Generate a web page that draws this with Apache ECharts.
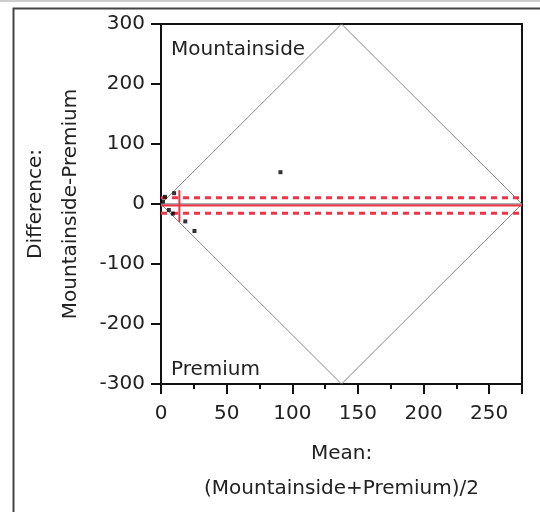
<!DOCTYPE html>
<html>
<head>
<meta charset="utf-8">
<script src="https://cdn.jsdelivr.net/npm/echarts@6/dist/echarts.min.js"></script>
<style>
  html, body { margin: 0; padding: 0; background: #fff; }
  #chart { width: 540px; height: 512px; }
</style>
</head>
<body>
<div id="chart"></div>
<script>
// paired points: mean of the two, and their difference
const meanVals = [1.5, 3, 10, 6, 9, 18.5, 25.5, 91]
const diffVals = [4, 12, 18, -10, -16, -29, -45, 53]

// axis setup
const xMin = 0
const xMax = 275
const yMin = -300
const yMax = 300

// diamond outline (corners in data units)
const diamondX = [0, 137.5, 275, 137.5, 0]
const diamondY = [0, 300, 0, -300, 0]

// mean difference and its confidence bounds
const meanDiff = -2.5
const upperCI = 10.5
const lowerCI = -15.5
// short vertical red bar
const barX = 14
const barY = [23, -30]

const red = "#ee3346"
const font = "DejaVu Sans"

const chart = echarts.init(document.getElementById("chart"))

const hLine = (y, type) => ({
  type: "line",
  silent: true,
  symbol: "none",
  data: [[xMin, y], [xMax, y]],
  lineStyle: { color: red, width: type === "solid" ? 2 : 3, type: type === "solid" ? "solid" : [6, 5] },
  z: 3
})

chart.setOption({
  animation: false,
  grid: { left: 161, right: 18, top: 24, bottom: 128 },
  xAxis: [
    {
      type: "value",
      min: xMin,
      max: xMax,
      interval: 50,
      splitLine: { show: false },
      axisLine: { onZero: false, lineStyle: { color: "#111", width: 2 } },
      axisTick: { length: 10, lineStyle: { color: "#111", width: 2 } },
      minorTick: { show: true, splitNumber: 2, length: 5, lineStyle: { color: "#111", width: 2 } },
      axisLabel: { color: "#222", fontSize: 20, fontFamily: font, margin: 20 },
      name: "Mean:\n(Mountainside+Premium)/2",
      nameLocation: "middle",
      nameGap: 52,
      nameTextStyle: { color: "#222", fontSize: 20, fontFamily: font, lineHeight: 35 }
    },
    {
      type: "value",
      position: "top",
      min: xMin,
      max: xMax,
      axisLine: { show: true, onZero: false, lineStyle: { color: "#111", width: 2 } },
      axisTick: { show: false },
      axisLabel: { show: false },
      splitLine: { show: false }
    }
  ],
  yAxis: [
    {
      type: "value",
      min: yMin,
      max: yMax,
      interval: 100,
      splitLine: { show: false },
      axisLine: { show: true, onZero: false, lineStyle: { color: "#111", width: 2 } },
      axisTick: { show: true, length: 10, lineStyle: { color: "#111", width: 2 } },
      axisLabel: { color: "#222", fontSize: 20, fontFamily: font, margin: 16 },
      name: "Difference:\nMountainside-Premium",
      nameLocation: "middle",
      nameGap: 73,
      nameTextStyle: { color: "#222", fontSize: 20, fontFamily: font, lineHeight: 35 }
    },
    {
      type: "value",
      position: "right",
      min: yMin,
      max: yMax,
      axisLine: { show: true, onZero: false, lineStyle: { color: "#111", width: 2 } },
      axisTick: { show: false },
      axisLabel: { show: false },
      splitLine: { show: false }
    }
  ],
  graphic: [
    { type: "rect", left: 11, top: 6, shape: { width: 700, height: 700 }, style: { fill: "none", stroke: "#444", lineWidth: 2 } },
    { type: "rect", left: 0, top: 0, shape: { width: 540, height: 2 }, style: { fill: "#ccc" } },
    { type: "text", left: 171, top: 40, style: { text: "Mountainside", fontSize: 20, fontFamily: font, fill: "#222" } },
    { type: "text", left: 171, top: 360, style: { text: "Premium", fontSize: 20, fontFamily: font, fill: "#222" } }
  ],
  series: [
    {
      type: "line",
      silent: true,
      symbol: "none",
      data: diamondX.map((x, i) => [x, diamondY[i]]),
      lineStyle: { color: "#888", width: 1 },
      z: 1
    },
    {
      type: "line",
      silent: true,
      symbol: "none",
      data: [[xMin, 0], [xMax, 0]],
      lineStyle: { color: "#555", width: 1 },
      z: 2
    },
    hLine(meanDiff, "solid"),
    hLine(upperCI, "dashed"),
    hLine(lowerCI, "dashed"),
    {
      type: "line",
      silent: true,
      symbol: "none",
      data: barY.map(y => [barX, y]),
      lineStyle: { color: red, width: 2 },
      z: 3
    },
    {
      type: "scatter",
      symbol: "rect",
      symbolSize: 4,
      itemStyle: { color: "#000" },
      data: meanVals.map((x, i) => [x, diffVals[i]]),
      z: 5
    }
  ]
})
</script>
</body>
</html>
